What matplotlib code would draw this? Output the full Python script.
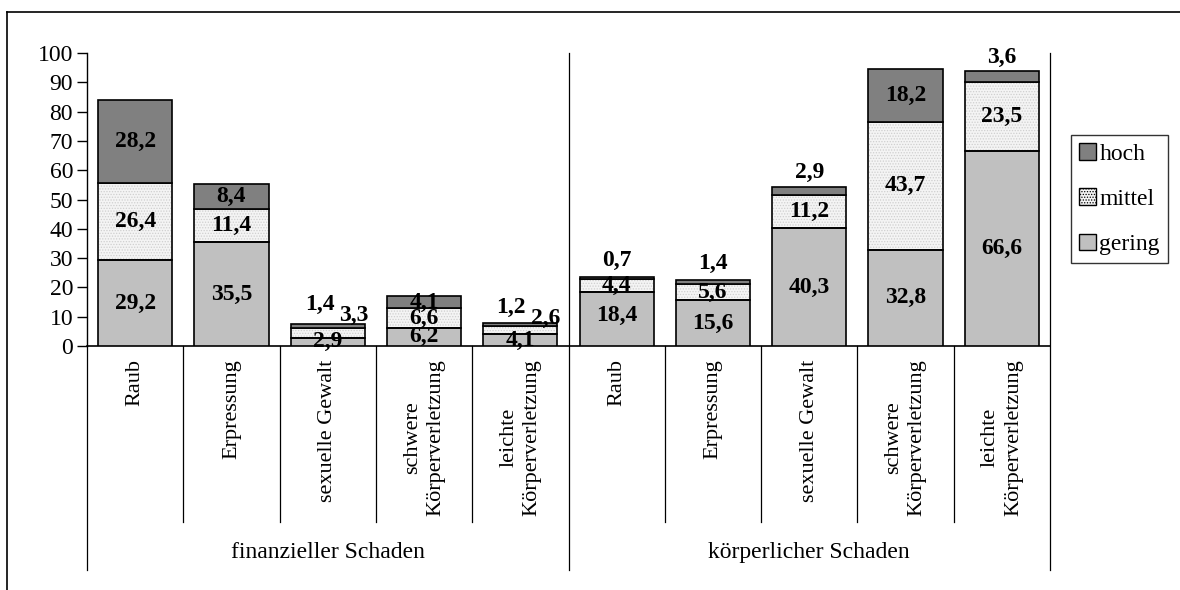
import matplotlib
matplotlib.use("Agg")
import matplotlib.pyplot as plt
from matplotlib.lines import Line2D
from matplotlib.patches import Patch

plt.rcParams['font.family'] = ['Liberation Serif', 'DejaVu Serif']
plt.rcParams['hatch.linewidth'] = 0.6

# data
categories = ["Raub", "Erpressung", "sexuelle Gewalt",
              "schwere\nKörperverletzung", "leichte\nKörperverletzung"] * 2
groups = ["finanzieller Schaden", "körperlicher Schaden"]
gering = [29.2, 35.5, 2.9, 6.2, 4.1, 18.4, 15.6, 40.3, 32.8, 66.6]
mittel = [26.4, 11.4, 3.3, 6.6, 2.6, 4.4, 5.6, 11.2, 43.7, 23.5]
hoch = [28.2, 8.4, 1.4, 4.1, 1.2, 0.7, 1.4, 2.9, 18.2, 3.6]

# label nudges (dx in slot units, dy in data units) for small segments
nudge = {
    (2, 'hoch'): (-0.08, 7.4), (2, 'mittel'): (0.27, 6.0),
    (4, 'hoch'): (-0.10, 5.7), (4, 'mittel'): (0.26, 4.1),
    (5, 'hoch'): (0, 6.1), (6, 'hoch'): (0, 6.4),
    (7, 'hoch'): (0, 6.4), (9, 'hoch'): (0, 6.7),
    (5, 'gering'): (0, 1.2),
}

W, H = 1180, 590
fig = plt.figure(figsize=(W / 100, H / 100), dpi=100)
left, right, bot, top = 87, 1050, 346, 53
ax = fig.add_axes([left / W, 1 - bot / H, (right - left) / W, (bot - top) / H])

n = len(categories)
x = [i + 0.5 for i in range(n)]
bw = 0.77

series = [('gering', gering, '#c0c0c0', None),
          ('mittel', mittel, '#f4f4f4', '......'),
          ('hoch', hoch, '#808080', None)]
bottom = [0.0] * n
for name, vals, col, hatch in series:
    if hatch:
        ax.bar(x, vals, bw, bottom=bottom, color=col, hatch=hatch,
               edgecolor='#cfcfcf', linewidth=0, zorder=2)
        ax.bar(x, vals, bw, bottom=bottom, fill=False, edgecolor='black',
               linewidth=1.2, zorder=3)
    else:
        ax.bar(x, vals, bw, bottom=bottom, color=col, edgecolor='black',
               linewidth=1.2, zorder=3)
    for i, v in enumerate(vals):
        dx, dy = nudge.get((i, name), (0, 0))
        ax.text(x[i] + dx, bottom[i] + v / 2 + dy, f"{v:.1f}".replace('.', ','),
                ha='center', va='center', fontsize=17, fontweight='bold', zorder=5)
    bottom = [b + v for b, v in zip(bottom, vals)]

ax.set_xlim(0, n)
ax.set_ylim(0, 100)
ax.set_yticks(range(0, 101, 10))
ax.tick_params(axis='y', labelsize=17, length=7, width=1, direction='out', pad=3)
ax.set_xticks([])
for s in ['top', 'right']:
    ax.spines[s].set_visible(False)
ax.spines['left'].set_linewidth(1)
ax.spines['bottom'].set_linewidth(1.2)

trans = ax.get_xaxis_transform()
# slot separators
for i in range(1, n):
    if i % 5 == 0:
        continue
    ax.plot([i, i], [0, -0.60], transform=trans, color='black', lw=0.9, clip_on=False)
# group separators
for i in range(0, n + 1, 5):
    y0 = 0 if i == 0 else 1
    ax.plot([i, i], [y0, -0.765], transform=trans, color='black', lw=0.9, clip_on=False)

for i, c in enumerate(categories):
    ax.text(x[i], -0.045, c, transform=trans, rotation=90, ha='center', va='top',
            multialignment='center', fontsize=16, linespacing=1.3)
for g, name in enumerate(groups):
    ax.text(g * 5 + 2.5, -0.706, name, transform=trans, ha='center', va='center',
            fontsize=17)

handles = [Patch(facecolor='#808080', edgecolor='black', label='hoch'),
           Patch(facecolor='#f4f4f4', edgecolor='black', hatch='......', label='mittel'),
           Patch(facecolor='#c0c0c0', edgecolor='black', label='gering')]
leg = fig.legend(handles=handles, loc='upper left',
                 bbox_to_anchor=(1071 / W, 1 - 135 / H), fontsize=17,
                 frameon=True, fancybox=False, edgecolor='black',
                 handlelength=0.7, handleheight=0.7, handletextpad=0.15,
                 labelspacing=1.0, borderpad=0.35, borderaxespad=0)
leg.get_frame().set_linewidth(1)

# outer frame
fig.add_artist(Line2D([7 / W, 1], [1 - 12 / H, 1 - 12 / H], color='black', lw=1.2))
fig.add_artist(Line2D([7 / W, 7 / W], [1 - 12 / H, 0], color='black', lw=1.2))

fig.savefig('out.png', dpi=100)
